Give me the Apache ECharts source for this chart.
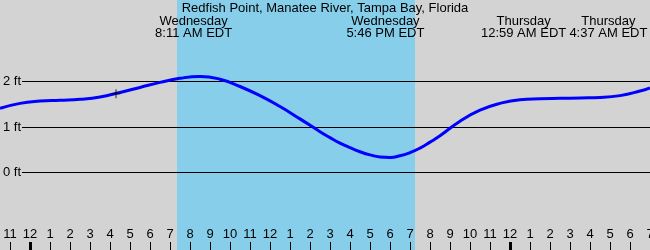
<!DOCTYPE html>
<html>
<head>
<meta charset="utf-8">
<script src="https://cdn.jsdelivr.net/npm/echarts@6/dist/echarts.min.js"></script>
<style>
html,body{margin:0;padding:0;background:#d3d3d3;overflow:hidden;}
#chart{width:650px;height:250px;}
</style>
</head>
<body>
<div id="chart"></div>
<script>
// ---- data (hours since midnight Wednesday; heights in ft) ----
const titleText = "Redfish Point, Manatee River, Tampa Bay, Florida";
const tideHours = [-1.5,-0.5,0.5,1.5,2.5,3.5,4.5,5.5,6.5,7.5,8.5,9.5,10.5,11.5,12.5,13.5,14.5,15,15.5,16,16.5,17,17.5,18,18.5,19,19.5,20,20.5,21.5,22.5,23.5,24.5,25.5,26.5,27.5,28.5,29.5,30.5,31];
const tideFeet  = [1.41,1.52,1.57,1.59,1.61,1.66,1.76,1.87,1.98,2.07,2.11,2.05,1.89,1.69,1.45,1.18,0.90,0.77,0.65,0.55,0.46,0.39,0.345,0.335,0.37,0.44,0.54,0.67,0.81,1.13,1.37,1.52,1.60,1.62,1.63,1.64,1.65,1.69,1.79,1.86];
const daylight = [7.35, 19.25];
const gridFeet = [0, 1, 2];
const nowPoint = [4.3, 1.73];
const eventHours = [8.18, 17.77, 24.98, 28.62];
const eventDays  = ["Wednesday", "Wednesday", "Thursday", "Thursday"];
const eventTimes = ["8:11 AM EDT", "5:46 PM EDT", "12:59 AM EDT", "4:37 AM EDT"];
const eventNudge = [0, 0, -6, 6];
const tickHours = []; for (let h = -1; h <= 31; h++) tickHours.push(h);
const midnightHours = [0, 24];
const xMin = -1.5, xMax = 31, yMin = -1.695, yMax = 3.787;

const FONT = "Liberation Sans, Arial, sans-serif";
const chart = echarts.init(document.getElementById('chart'), null, {renderer: 'canvas'});

const tideData = tideHours.map((h, i) => [h, tideFeet[i]]);
const gridLines = gridFeet.map(v => [{coord: [-0.4, v]}, {coord: [xMax, v]}]);

chart.setOption({
  backgroundColor: '#d3d3d3',
  animation: false,
  title: {
    text: titleText, left: 'center', top: 1, padding: 0,
    textStyle: {fontSize: 13, fontWeight: 'normal', color: '#000', fontFamily: FONT, lineHeight: 14}
  },
  grid: {left: 0, right: 0, top: 0, bottom: 0, containLabel: false, outerBoundsMode: 'none'},
  xAxis: [{
    type: 'value', min: xMin, max: xMax, z: 10,
    axisLine: {show: false, onZero: false},
    splitLine: {show: false},
    axisTick: {show: true, inside: true, length: 8, customValues: tickHours, lineStyle: {color: '#000', width: 1}},
    axisLabel: {
      show: true, inside: true, margin: 9, customValues: tickHours,
      showMinLabel: true, showMaxLabel: true, hideOverlap: false,
      color: '#000', fontSize: 13, fontFamily: FONT,
      formatter: v => { const m = ((v % 12) + 12) % 12; return String(m === 0 ? 12 : m); }
    }
  }, {
    type: 'value', min: xMin, max: xMax, position: 'bottom', z: 10,
    axisLine: {show: false, onZero: false}, splitLine: {show: false}, axisLabel: {show: false},
    axisTick: {show: true, inside: true, length: 8, customValues: midnightHours, lineStyle: {color: '#000', width: 3}}
  }],
  yAxis: {
    type: 'value', min: yMin, max: yMax, z: 10,
    axisLine: {show: false, onZero: false}, axisTick: {show: false}, splitLine: {show: false},
    axisLabel: {
      show: true, inside: true, margin: 3, customValues: gridFeet,
      color: '#000', fontSize: 13, fontFamily: FONT,
      formatter: v => v + ' ft'
    }
  },
  series: [{
    type: 'line',
    data: tideData,
    smooth: 0.5,
    showSymbol: false,
    lineStyle: {color: '#0000ff', width: 3},
    z: 5,
    markArea: {
      silent: true,
      itemStyle: {color: '#87ceeb'},
      data: [[{xAxis: daylight[0]}, {xAxis: daylight[1]}]]
    },
    markLine: {
      silent: true, symbol: 'none', animation: false,
      label: {show: false},
      lineStyle: {color: '#000', width: 1, type: 'solid'},
      data: gridLines
    }
  }, {
    type: 'scatter',
    data: [nowPoint],
    symbol: 'path://M0,4H9V5H0Z M4,0H5V9H4Z',
    symbolSize: 9,
    itemStyle: {color: '#000'},
    z: 6
  }]
});

const graphics = eventHours.map((h, i) => ({
  type: 'text',
  x: chart.convertToPixel({xAxisIndex: 0}, h) + eventNudge[i],
  y: 15.5,
  style: {
    text: eventDays[i] + '\n' + eventTimes[i],
    textAlign: 'center', textVerticalAlign: 'top',
    font: '13px ' + FONT, lineHeight: 12, fill: '#000'
  },
  z: 10
}));
chart.setOption({graphic: graphics});
</script>
</body>
</html>
